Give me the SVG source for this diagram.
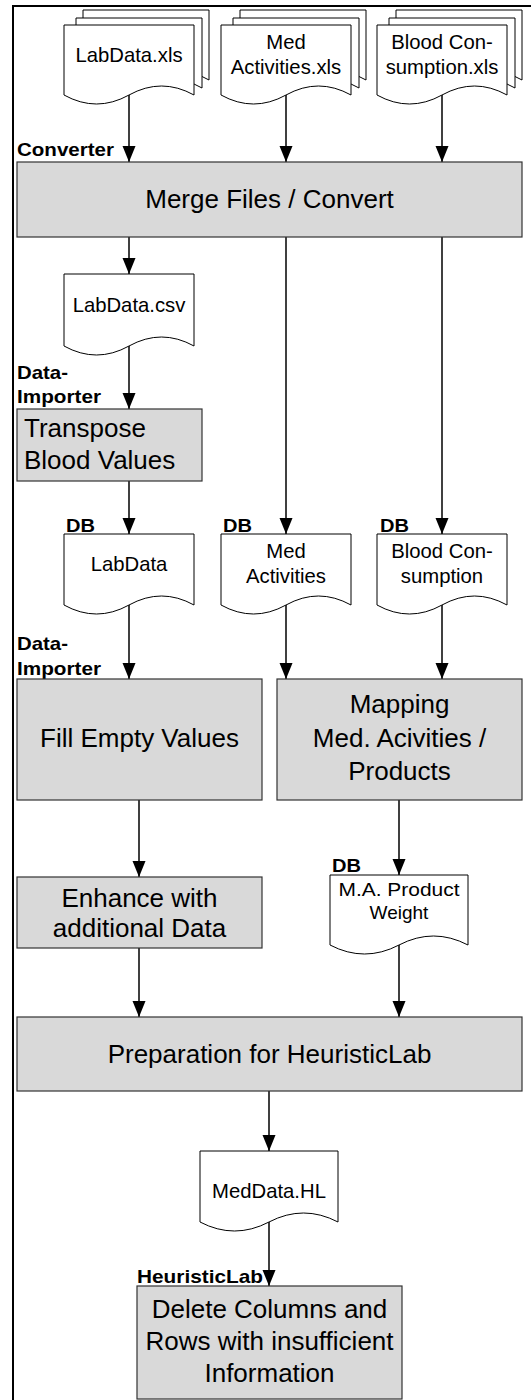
<svg xmlns="http://www.w3.org/2000/svg" width="531" height="1400" viewBox="0 0 531 1400">
<defs>
<style>
.doc{fill:#fff;stroke:#000;stroke-width:1}
.box{fill:#d9d9d9;stroke:#333;stroke-width:1.2}
.t{font-family:"Liberation Sans",Arial,sans-serif;font-size:20.3px;fill:#000;text-anchor:middle}
.ts{font-family:"Liberation Sans",Arial,sans-serif;font-size:19px;fill:#000;text-anchor:middle}
.tb{font-family:"Liberation Sans",Arial,sans-serif;font-size:26px;fill:#000;text-anchor:middle}
.lb{font-family:"Liberation Sans",Arial,sans-serif;font-size:18.5px;font-weight:bold;fill:#000}
.c{stroke:#000;stroke-width:1.5;fill:none;marker-end:url(#ah)}
</style>
<marker id="ah" markerUnits="userSpaceOnUse" markerWidth="16" markerHeight="14" refX="16" refY="7" orient="auto">
<path d="M0,0.5 L16,7 L0,13.5 Z" fill="#000"/>
</marker>
</defs>
<rect width="531" height="1400" fill="#fff"/>
<path d="M13,1400 V6 H531" fill="none" stroke="#000" stroke-width="2"/>

<g id="connectors">
<path class="c" d="M129,95 V162"/>
<path class="c" d="M286,95 V162"/>
<path class="c" d="M442,95 V162"/>
<path class="c" d="M129,237 V274"/>
<path class="c" d="M286,237 V534"/>
<path class="c" d="M442,237 V534"/>
<path class="c" d="M129,346 V409"/>
<path class="c" d="M129,481 V534"/>
<path class="c" d="M129,605 V679"/>
<path class="c" d="M286,605 V679"/>
<path class="c" d="M442,605 V679"/>
<path class="c" d="M139,800 V877"/>
<path class="c" d="M399,800 V875"/>
<path class="c" d="M139,948 V1017"/>
<path class="c" d="M399,945 V1017"/>
<path class="c" d="M269,1091 V1151"/>
<path class="c" d="M269,1222 V1286"/>
</g>

<g id="labdata-xls">
<path class="doc" d="M83,10 H209 V80 Q177.5,62 146,80 T83,80 Z"/>
<path class="doc" d="M76,18 H202 V88 Q170.5,70 139,88 T76,88 Z"/>
<path class="doc" d="M64,25 H194 V95 Q161.5,77 129,95 T64,95 Z"/>
<text class="t" x="129" y="62">LabData.xls</text>
</g>
<g id="medact-xls">
<path class="doc" d="M240,10 H366 V80 Q334.5,62 303,80 T240,80 Z"/>
<path class="doc" d="M233,18 H359 V88 Q327.5,70 296,88 T233,88 Z"/>
<path class="doc" d="M221,25 H351 V95 Q318.5,77 286,95 T221,95 Z"/>
<text class="t" x="286" y="49">Med</text>
<text class="t" x="286" y="74">Activities.xls</text>
</g>
<g id="blood-xls">
<path class="doc" d="M396,10 H522 V80 Q490.5,62 459,80 T396,80 Z"/>
<path class="doc" d="M389,18 H515 V88 Q483.5,70 452,88 T389,88 Z"/>
<path class="doc" d="M377,25 H507 V95 Q474.5,77 442,95 T377,95 Z"/>
<text class="t" x="442" y="49">Blood Con-</text>
<text class="t" x="442" y="74">sumption.xls</text>
</g>

<g id="label-converter"><text class="lb" x="17" y="156" textLength="97" lengthAdjust="spacingAndGlyphs">Converter</text></g>

<g id="merge">
<rect class="box" x="17" y="162" width="505" height="75"/>
<text class="tb" x="269.5" y="208">Merge Files / Convert</text>
</g>

<g id="labdata-csv">
<path class="doc" d="M64,274 H194 V346 Q161.5,328 129,346 T64,346 Z"/>
<text class="t" x="129" y="312">LabData.csv</text>
</g>

<g id="label-importer1">
<text class="lb" x="17" y="379" textLength="51" lengthAdjust="spacingAndGlyphs">Data-</text>
<text class="lb" x="17" y="403" textLength="84" lengthAdjust="spacingAndGlyphs">Importer</text>
</g>

<g id="transpose">
<rect class="box" x="17" y="409" width="185" height="72"/>
<text class="tb" x="24" y="437" style="text-anchor:start">Transpose</text>
<text class="tb" x="24" y="469" style="text-anchor:start">Blood Values</text>
</g>

<g id="db-labels">
<text class="lb" x="66" y="532" textLength="29" lengthAdjust="spacingAndGlyphs">DB</text>
<text class="lb" x="223" y="532" textLength="29" lengthAdjust="spacingAndGlyphs">DB</text>
<text class="lb" x="380" y="532" textLength="29" lengthAdjust="spacingAndGlyphs">DB</text>
<text class="lb" x="332" y="872" textLength="29" lengthAdjust="spacingAndGlyphs">DB</text>
</g>

<g id="labdata-db">
<path class="doc" d="M64,534 H194 V605 Q161.5,587 129,605 T64,605 Z"/>
<text class="t" x="129" y="571">LabData</text>
</g>
<g id="medact-db">
<path class="doc" d="M221,534 H351 V605 Q318.5,587 286,605 T221,605 Z"/>
<text class="t" x="286" y="558">Med</text>
<text class="t" x="286" y="583">Activities</text>
</g>
<g id="blood-db">
<path class="doc" d="M377,534 H507 V605 Q474.5,587 442,605 T377,605 Z"/>
<text class="t" x="442" y="558">Blood Con-</text>
<text class="t" x="442" y="583">sumption</text>
</g>

<g id="label-importer2">
<text class="lb" x="17" y="650" textLength="51" lengthAdjust="spacingAndGlyphs">Data-</text>
<text class="lb" x="17" y="675" textLength="84" lengthAdjust="spacingAndGlyphs">Importer</text>
</g>

<g id="fill-empty">
<rect class="box" x="17" y="679" width="245" height="121"/>
<text class="tb" x="139.5" y="747">Fill Empty Values</text>
</g>

<g id="mapping">
<rect class="box" x="277" y="679" width="245" height="121"/>
<text class="tb" x="399.5" y="713">Mapping</text>
<text class="tb" x="399.5" y="747">Med. Acivities /</text>
<text class="tb" x="399.5" y="780">Products</text>
</g>

<g id="enhance">
<rect class="box" x="17" y="877" width="245" height="71"/>
<text class="tb" x="139.5" y="907">Enhance with</text>
<text class="tb" x="139.5" y="937">additional Data</text>
</g>

<g id="ma-weight">
<path class="doc" d="M330,875 H468 V945 Q433.5,927 399,945 T330,945 Z"/>
<text class="ts" x="399" y="896" textLength="121" lengthAdjust="spacingAndGlyphs">M.A. Product</text>
<text class="ts" x="399" y="919">Weight</text>
</g>

<g id="preparation">
<rect class="box" x="17" y="1017" width="505" height="74"/>
<text class="tb" x="269.5" y="1063">Preparation for HeuristicLab</text>
</g>

<g id="meddata-hl">
<path class="doc" d="M200,1151 H338 V1222 Q303.5,1204 269,1222 T200,1222 Z"/>
<text class="t" x="269" y="1198">MedData.HL</text>
</g>

<g id="label-hl"><text class="lb" x="137" y="1283" textLength="126" lengthAdjust="spacingAndGlyphs">HeuristicLab</text></g>

<g id="delete">
<rect class="box" x="137" y="1286" width="265" height="113"/>
<text class="tb" x="269.5" y="1318">Delete Columns and</text>
<text class="tb" x="269.5" y="1350">Rows with insufficient</text>
<text class="tb" x="269.5" y="1382">Information</text>
</g>
</svg>
